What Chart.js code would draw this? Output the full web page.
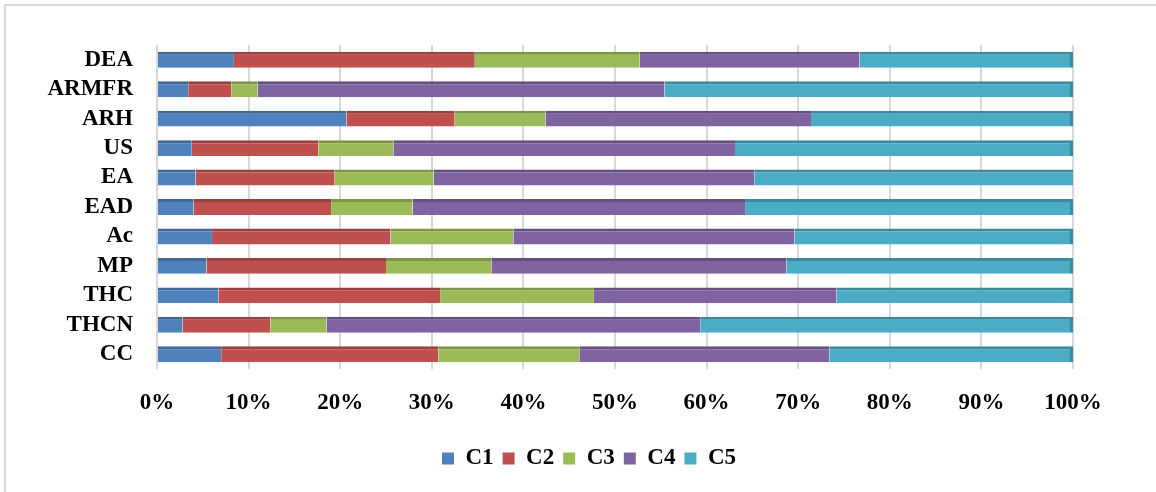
<!DOCTYPE html>
<html>
<head>
<meta charset="utf-8">
<script src="https://cdn.jsdelivr.net/npm/chart.js@4/dist/chart.umd.min.js"></script>
<style>
  html, body { margin: 0; padding: 0; background: #fff; }
  #wrap { position: relative; width: 1156px; height: 492px; }
  #frame { position: absolute; left: 4px; top: 4px; right: 0; bottom: 0;
           border-left: 2px solid #d9d9d9; border-top: 2px solid #d9d9d9; }
  canvas { position: absolute; left: 0; top: 0; }
</style>
</head>
<body>
<div id="wrap">
  <div id="frame"></div>
  <canvas id="grafico" width="1156" height="492"></canvas>
</div>
<script>
const categorias = ["DEA", "ARMFR", "ARH", "US", "EA", "EAD", "Ac", "MP", "THC", "THCN", "CC"];
const serieC1 = [8.4, 3.4, 20.7, 3.8, 4.2, 4.0, 6.0, 5.4, 6.7, 2.8, 7.0];
const serieC2 = [26.3, 4.7, 11.8, 13.8, 15.2, 15.0, 19.5, 19.6, 24.2, 9.6, 23.7];
const serieC3 = [18.0, 2.9, 9.9, 8.2, 10.8, 8.9, 13.4, 11.5, 16.8, 6.1, 15.4];
const serieC4 = [24.0, 44.4, 29.0, 37.3, 35.0, 36.3, 30.7, 32.2, 26.5, 40.8, 27.3];
const serieC5 = [23.3, 44.6, 28.6, 36.9, 36.8, 35.8, 30.4, 31.3, 25.8, 40.7, 26.6];
const ticksX = [0, 10, 20, 30, 40, 50, 60, 70, 80, 90, 100];

const fonte = { family: "'Liberation Serif', 'Times New Roman', serif", size: 23, weight: "bold" };

function serie(nome, dados, cor, corTopo, ultimo) {
  return {
    label: nome,
    data: dados,
    backgroundColor: cor,
    borderColor: corTopo,
    borderWidth: { top: 3, left: 0, bottom: 0, right: ultimo ? 3 : 0 },
    borderSkipped: false,
    barPercentage: 0.54,
    categoryPercentage: 1,
  };
}

const ctx = document.getElementById("grafico").getContext("2d");
new Chart(ctx, {
  type: "bar",
  data: {
    labels: categorias,
    datasets: [
      serie("C1", serieC1, "#4f81bd", "#3f6897", false),
      serie("C2", serieC2, "#c0504d", "#9a403e", false),
      serie("C3", serieC3, "#9bbb59", "#7c9647", false),
      serie("C4", serieC4, "#8064a2", "#665082", false),
      serie("C5", serieC5, "#4bacc6", "#3c8a9e", true),
    ],
  },
  options: {
    indexAxis: "y",
    responsive: false,
    animation: false,
    layout: { padding: { top: 45, right: 0, bottom: 12, left: 22 } },
    scales: {
      x: {
        stacked: true,
        min: 0,
        max: 100,
        afterBuildTicks: (scale) => {
          scale.ticks = ticksX.map((v) => ({ value: v }));
        },
        afterFit: (scale) => { scale.height = 69; },
        grid: { color: "#d9d9d9", lineWidth: 2, drawTicks: false },
        border: { display: false },
        ticks: {
          padding: 20,
          color: "#000",
          font: fonte,
          autoSkip: false,
          maxRotation: 0,
          callback: (v) => v + "%",
        },
      },
      y: {
        stacked: true,
        afterFit: (scale) => { scale.width = 135; },
        grid: { display: false, drawTicks: false },
        border: { display: false },
        ticks: { padding: 24, color: "#000", font: fonte, autoSkip: false },
      },
      // eixo vazio à direita só para reservar a margem
      yDireita: {
        type: "category",
        position: "right",
        display: true,
        afterFit: (scale) => { scale.width = 83; },
        grid: { display: false, drawTicks: false },
        border: { display: false },
        ticks: { display: false },
      },
    },
    plugins: {
      tooltip: { enabled: false },
      legend: {
        position: "bottom",
        labels: {
          color: "#000",
          font: fonte,
          boxWidth: 12,
          boxHeight: 12,
          padding: 9,
          generateLabels: (chart) =>
            chart.data.datasets.map((ds, i) => ({
              text: ds.label,
              fillStyle: ds.backgroundColor,
              strokeStyle: ds.backgroundColor,
              lineWidth: 0,
              fontColor: "#000",
              datasetIndex: i,
              hidden: false,
            })),
        },
      },
    },
  },
});
</script>
</body>
</html>
